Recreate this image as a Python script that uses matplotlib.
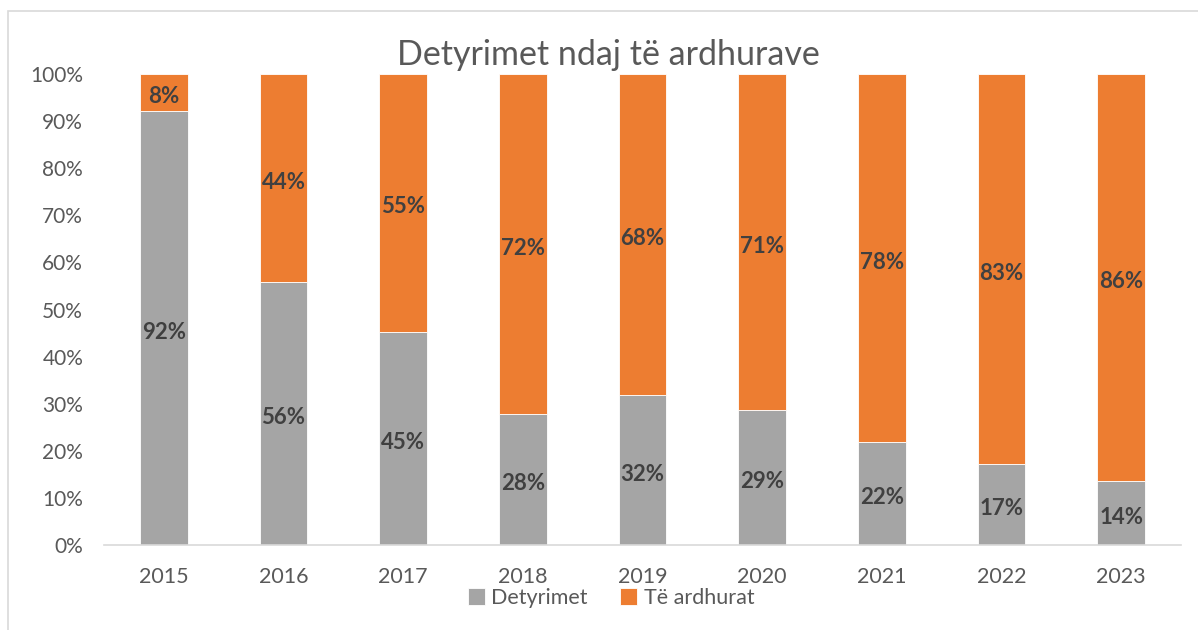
import matplotlib
matplotlib.use('Agg')
import matplotlib.pyplot as plt
from matplotlib.patches import Rectangle

plt.rcParams['font.family'] = ['Lato', 'DejaVu Sans']

years = ['2015', '2016', '2017', '2018', '2019', '2020', '2021', '2022', '2023']
detyrimet = [92.2, 55.9, 45.3, 27.8, 31.9, 28.7, 21.9, 17.2, 13.6]
te_ardhurat = [100 - v for v in detyrimet]
labels_det = ['92%', '56%', '45%', '28%', '32%', '29%', '22%', '17%', '14%']
labels_ard = ['8%', '44%', '55%', '72%', '68%', '71%', '78%', '83%', '86%']

gray = '#A5A5A5'
orange = '#ED7D31'

fig = plt.figure(figsize=(11.98, 6.30), dpi=100, facecolor='white')
# chart frame
fig.patches.append(Rectangle((8 / 1198, -0.01), 1.0, 1 - 11 / 630 + 0.01,
                             transform=fig.transFigure, fill=False,
                             edgecolor='#D9D9D9', linewidth=1.2))

ax = fig.add_axes([104 / 1198, 1 - 545 / 630, 1077 / 1198, 471 / 630])
x = range(len(years))
b1 = ax.bar(x, detyrimet, width=0.4, color=gray, edgecolor='white',
            linewidth=0.6, label='Detyrimet')
b2 = ax.bar(x, te_ardhurat, width=0.4, bottom=detyrimet, color=orange,
            edgecolor='white', linewidth=0.6, label='Të ardhurat')

ax.bar_label(b1, labels=labels_det, label_type='center', fontsize=16,
             fontweight='bold', color='#404040', padding=-3)
ax.bar_label(b2, labels=labels_ard, label_type='center', fontsize=16,
             fontweight='bold', color='#404040', padding=-3)

ax.set_xlim(-0.5, len(years) - 0.5)
ax.set_ylim(0, 100)
ax.set_yticks(range(0, 101, 10))
ax.set_yticklabels([f'{v}%' for v in range(0, 101, 10)])
ax.set_xticks(list(x))
ax.set_xticklabels(years)
ax.tick_params(axis='both', length=0, labelsize=15, colors='#595959')
ax.tick_params(axis='x', labelsize=15.5, pad=16)
ax.tick_params(axis='y', pad=15)

for s in ['top', 'right', 'left']:
    ax.spines[s].set_visible(False)
ax.spines['bottom'].set_color('#D9D9D9')
ax.spines['bottom'].set_linewidth(1.2)

fig.text(0.508, 1 - 55 / 630, 'Detyrimet ndaj të ardhurave', ha='center',
         va='center', fontsize=24.5, color='#595959')

ax.legend(loc='center', bbox_to_anchor=(0.51, 1 - 598 / 630), bbox_transform=fig.transFigure,
          ncol=2, frameon=False, fontsize=15.5, labelcolor='#595959',
          handlelength=0.8, handleheight=0.8, handletextpad=0.3, columnspacing=1.5)

fig.savefig('out.png', dpi=100, facecolor='white')
